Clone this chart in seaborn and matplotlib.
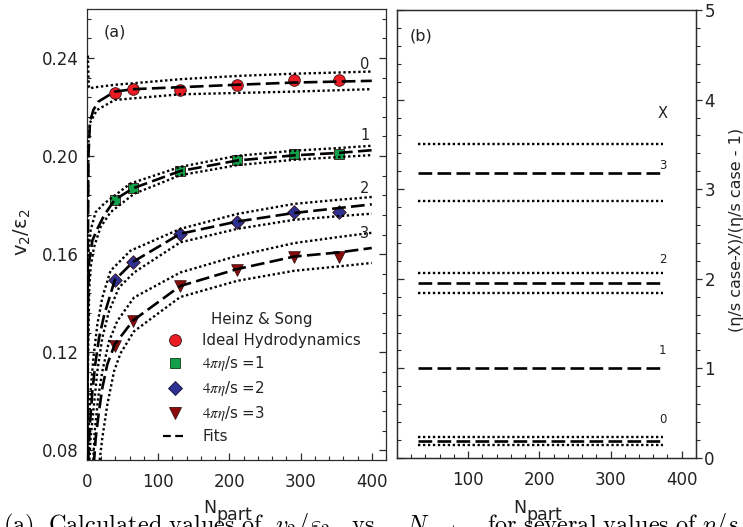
import matplotlib
matplotlib.use("Agg")
import matplotlib.pyplot as plt
from matplotlib.lines import Line2D
from matplotlib.font_manager import FontProperties
from matplotlib.ticker import MultipleLocator, FormatStrFormatter
import seaborn as sns

# ---------------- panel (a): v2/eps2 vs Npart ----------------
n_part = [39, 65, 131, 211, 291, 354]
v2_ideal = [0.2259, 0.2273, 0.2270, 0.2289, 0.2311, 0.2311]
v2_eta1 = [0.1822, 0.1869, 0.1939, 0.1982, 0.2010, 0.2010]
v2_eta2 = [0.1494, 0.1569, 0.1683, 0.1730, 0.1770, 0.1770]
v2_eta3 = [0.1227, 0.1327, 0.1468, 0.1536, 0.1587, 0.1589]

# fitted curves (centre) and their upper / lower bands
fit0_n = [0.3, 1.0, 2.0, 4.2, 8.9, 15.9, 39, 65, 131, 211, 291, 354, 400]
fit0_v = [0.060, 0.150, 0.200, 0.214, 0.2188, 0.2222, 0.2263, 0.2273, 0.2281, 0.2291, 0.2300, 0.2304, 0.2307]
up0_n = [1.2, 2.5, 4.0, 9.0, 40, 133, 212, 290, 354, 400]
up0_v = [0.241, 0.2285, 0.2275, 0.2280, 0.2291, 0.2314, 0.2327, 0.2336, 0.2341, 0.2345]
lo0_n = [0.3, 1.0, 2.0, 4.0, 14, 39, 131, 291, 400]
lo0_v = [0.070, 0.160, 0.205, 0.2135, 0.2188, 0.2229, 0.2252, 0.2263, 0.2273]

fit1_n = [0.4, 1.0, 1.8, 3.0, 7.5, 14.5, 24, 39, 65, 131, 211, 291, 354, 400]
fit1_v = [0.070, 0.120, 0.145, 0.157, 0.1655, 0.1703, 0.1758, 0.1822, 0.1869, 0.1939, 0.1982, 0.2003, 0.2013, 0.2024]
up1_n = [0.3, 0.8, 2.0, 5.0, 12, 24, 61, 131, 211, 291, 354, 400]
up1_v = [0.070, 0.130, 0.160, 0.1696, 0.1771, 0.1806, 0.1888, 0.1956, 0.2001, 0.2022, 0.2033, 0.2042]
lo1_n = [0.5, 1.2, 3.0, 5.0, 9.8, 19, 33, 66, 131, 211, 291, 354, 400]
lo1_v = [0.070, 0.110, 0.145, 0.1545, 0.1628, 0.1710, 0.1771, 0.1846, 0.1922, 0.1963, 0.1985, 0.1996, 0.2004]

fit2_n = [1.0, 2.0, 4.0, 7.5, 12, 17, 24, 39, 65, 131, 211, 291, 354, 400]
fit2_v = [0.068, 0.078, 0.090, 0.104, 0.116, 0.126, 0.135, 0.1494, 0.1569, 0.1683, 0.1733, 0.1768, 0.1788, 0.1803]
up2_n = [1.0, 2.5, 5.0, 9.0, 14.5, 21.5, 33, 61, 131, 211, 291, 354, 400]
up2_v = [0.070, 0.090, 0.104, 0.1177, 0.1313, 0.1423, 0.1532, 0.1614, 0.1703, 0.1764, 0.1805, 0.1822, 0.1833]
lo2_n = [3.0, 5.0, 9.8, 14.5, 21.5, 31, 45, 66, 131, 211, 291, 354, 400]
lo2_v = [0.074, 0.0849, 0.0985, 0.1122, 0.1259, 0.1368, 0.1464, 0.1525, 0.1648, 0.1703, 0.1740, 0.1755, 0.1765]

fit3_n = [9.5, 12.2, 16.8, 21.5, 28.5, 39, 65, 131, 211, 291, 354, 400]
fit3_v = [0.074, 0.0849, 0.0958, 0.1054, 0.1150, 0.1232, 0.1330, 0.1470, 0.1539, 0.1590, 0.1607, 0.1625]
up3_n = [8.5, 10.8, 15.6, 21.5, 31, 42.5, 66, 131, 211, 291, 354, 400]
up3_v = [0.074, 0.0876, 0.1013, 0.1122, 0.1245, 0.1327, 0.1423, 0.1525, 0.1593, 0.1645, 0.1670, 0.1687]
lo3_n = [17, 21.5, 28.5, 38, 47, 66, 131, 211, 291, 354, 400]
lo3_v = [0.074, 0.0850, 0.0985, 0.1122, 0.1195, 0.1285, 0.1425, 0.1491, 0.1532, 0.1550, 0.1564]

curve_tags = ["0", "1", "2", "3"]
curve_tag_n = [390, 390, 390, 390]
curve_tag_v = [0.2373, 0.2085, 0.1868, 0.1684]

legend_title = "Heinz & Song"
legend_labels = ["Ideal Hydrodynamics", r"$4\pi\eta$/s =1", r"$4\pi\eta$/s =2",
                 r"$4\pi\eta$/s =3", "Fits"]

# ---------------- panel (b): ratio vs Npart ----------------
ratio_n = [30, 373]
ratio_case0 = [0.235, 0.190, 0.145]   # upper, centre, lower
ratio_case1 = [1.0]
ratio_case2 = [2.06, 1.95, 1.84]
ratio_case3 = [3.50, 3.18, 2.865]
ratio_tags = ["X", "3", "2", "1", "0"]
ratio_tag_v = [3.84, 3.26, 2.21, 1.20, 0.43]

caption = (r"$\mathrm{(a)\ \ Calculated\ values\ of\ \ }v_2/\varepsilon_2"
           r"\mathrm{\ \ \ vs.\ \ \ }N_{\mathrm{part}}"
           r"\mathrm{\ \ \ \ for\ several\ values\ of\ }\eta/s$")

# ---------------- styling ----------------
sns.set_theme(style="ticks")
plt.rcParams["font.family"] = ["DejaVu Sans"]
plt.rcParams["mathtext.fontset"] = "dejavusans"

INK = "#2b2b2b"
DASH = (0, (5.2, 2.0))
DOT = (0, (1.0, 1.1))
C_RED, C_GRN, C_BLU, C_DRED = "#ec1c24", "#12a04b", "#2e3192", "#8c0b0b"

fig = plt.figure(figsize=(7.43, 5.27), dpi=100)
ax_a = fig.add_axes([0.1171, 0.1271, 0.4024, 0.8558])
ax_b = fig.add_axes([0.5343, 0.1309, 0.4024, 0.8501])

# markers underneath the fit curves
marker_sets = [
    (v2_ideal, "o", 70, C_RED),
    (v2_eta1, "s", 52, C_GRN),
    (v2_eta2, "D", 48, C_BLU),
    (v2_eta3, "v", 70, C_DRED),
]
for vals, mk, size, col in marker_sets:
    sns.scatterplot(x=n_part, y=vals, ax=ax_a, marker=mk, s=size, color=col,
                    edgecolor="#3a1010", linewidth=0.6, legend=False, zorder=2)

for n, v in [(fit0_n, fit0_v), (fit1_n, fit1_v), (fit2_n, fit2_v), (fit3_n, fit3_v)]:
    sns.lineplot(x=n, y=v, ax=ax_a, color="black", lw=1.9, linestyle=DASH,
                 estimator=None, sort=False, legend=False, zorder=3)
for n, v in [(up0_n, up0_v), (lo0_n, lo0_v), (up1_n, up1_v), (lo1_n, lo1_v),
             (up2_n, up2_v), (lo2_n, lo2_v), (up3_n, up3_v), (lo3_n, lo3_v)]:
    sns.lineplot(x=n, y=v, ax=ax_a, color="black", lw=1.7, linestyle=DOT,
                 estimator=None, sort=False, legend=False, zorder=3)

for tag, tn, tv in zip(curve_tags, curve_tag_n, curve_tag_v):
    ax_a.text(tn, tv, tag, fontsize=10.5, ha="center", va="center", color="#222222")

ax_a.text(0.055, 0.948, "(a)", transform=ax_a.transAxes, fontsize=11.5,
          ha="left", va="center", color="#222222")

ax_a.set_xlim(0, 420)
ax_a.set_ylim(0.076, 0.26)
ax_a.xaxis.set_major_locator(MultipleLocator(100))
ax_a.xaxis.set_minor_locator(MultipleLocator(20))
ax_a.yaxis.set_major_locator(MultipleLocator(0.04))
ax_a.yaxis.set_minor_locator(MultipleLocator(0.008))
ax_a.yaxis.set_major_formatter(FormatStrFormatter("%.2f"))
ax_a.set_xlabel("")
ax_a.set_ylabel("")

legend_handles = [
    Line2D([], [], ls="none", marker="o", markersize=8.5, mfc=C_RED, mec="#3a1010", mew=0.6),
    Line2D([], [], ls="none", marker="s", markersize=7.2, mfc=C_GRN, mec="#103a10", mew=0.6),
    Line2D([], [], ls="none", marker="D", markersize=7.0, mfc=C_BLU, mec="#10103a", mew=0.6),
    Line2D([], [], ls="none", marker="v", markersize=8.5, mfc=C_DRED, mec="#3a1010", mew=0.6),
    Line2D([], [], color="black", lw=1.6, linestyle=(0, (3.5, 2.0))),
]
leg = ax_a.legend(legend_handles, legend_labels, title=legend_title,
                  loc="upper left", bbox_to_anchor=(0.23, 0.345),
                  frameon=False, handlelength=1.6, handletextpad=1.0,
                  labelspacing=0.40, borderpad=0.0,
                  prop=FontProperties(family="DejaVu Sans", size=10.8,
                                      math_fontfamily="stix"),
                  title_fontproperties=FontProperties(family="DejaVu Sans", size=10.8))
for t in leg.get_texts():
    t.set_color("#222222")
leg.get_title().set_color("#222222")

# panel (b): horizontal ratio lines
for vals in [ratio_case0, ratio_case2, ratio_case3]:
    for i, lv in enumerate(vals):
        style = DASH if i == 1 else DOT
        sns.lineplot(x=ratio_n, y=[lv, lv], ax=ax_b, color="black",
                     lw=1.9 if i == 1 else 1.7, linestyle=style,
                     estimator=None, legend=False)
for lv in ratio_case1:
    sns.lineplot(x=ratio_n, y=[lv, lv], ax=ax_b, color="black", lw=1.9,
                 linestyle=DASH, estimator=None, legend=False)

for i, (tag, tv) in enumerate(zip(ratio_tags, ratio_tag_v)):
    ax_b.text(ratio_n[1], tv, tag, fontsize=10.5 if i == 0 else 8.5,
              ha="center", va="center", color="#222222")

ax_b.text(0.043, 0.942, "(b)", transform=ax_b.transAxes, fontsize=11.5,
          ha="left", va="center", color="#222222")

ax_b.set_xlim(0, 420)
ax_b.set_ylim(0, 5)
ax_b.set_xticks([100, 200, 300, 400])
ax_b.xaxis.set_minor_locator(MultipleLocator(20))
ax_b.yaxis.set_major_locator(MultipleLocator(1))
ax_b.yaxis.set_minor_locator(MultipleLocator(0.2))
ax_b.set_xlabel("")
ax_b.set_ylabel("")

ax_b2 = ax_b.twinx()
ax_b2.set_ylim(0, 5)
ax_b2.yaxis.set_major_locator(MultipleLocator(1))
ax_b2.yaxis.set_minor_locator(MultipleLocator(0.2))
ax_b2.yaxis.set_major_formatter(FormatStrFormatter("%d"))

for ax in (ax_a, ax_b, ax_b2):
    for sp in ax.spines.values():
        sp.set_visible(True)
        sp.set_color(INK)
        sp.set_linewidth(0.9)

ax_a.tick_params(which="both", direction="in", left=True, right=True, top=False,
                 bottom=True, colors=INK, labelcolor="#222222", labelsize=12)
ax_a.tick_params(which="major", length=5, width=0.9)
ax_a.tick_params(which="minor", length=3, width=0.8)
ax_a.tick_params(axis="x", pad=9)
ax_a.tick_params(axis="y", pad=6)

ax_b.tick_params(which="both", direction="in", left=True, right=False, top=False,
                 bottom=True, labelleft=False, colors=INK, labelcolor="#222222",
                 labelsize=12)
ax_b.tick_params(which="major", length=5, width=0.9)
ax_b.tick_params(which="minor", length=3, width=0.8)
ax_b.tick_params(axis="x", pad=9)

ax_b2.tick_params(which="both", direction="out", left=False, right=True,
                  labelright=True, colors=INK, labelcolor="#222222", labelsize=12)
ax_b2.tick_params(which="major", length=4, width=0.9, pad=2)
ax_b2.tick_params(which="minor", length=3, width=0.8)

W, H = 743.0, 527.0
# axis titles
fig.text(22 / W, 1 - 232 / H, r"v$_2$/ε$_2$", rotation=90, fontsize=14,
         ha="center", va="center", color="#222222")
for x_mid in (236.5, 546.5):
    fig.text((x_mid - 20) / W, 1 - 513 / H, "N", fontsize=12.5, ha="right",
             va="baseline", color="#222222")
    fig.text((x_mid - 20) / W, 1 - 520 / H, "part", fontsize=12.5, ha="left",
             va="baseline", color="#222222")
fig.text(737 / W, 1 - 230 / H, "(η/s case-X)/(η/s case - 1)", rotation=90,
         fontsize=11.5, ha="center", va="center", color="#222222")

fig.text(3 / W, -5 / H, caption, fontsize=17.5, ha="left", va="baseline",
         math_fontfamily="cm", color="black")

fig.savefig("out.png", dpi=100)
